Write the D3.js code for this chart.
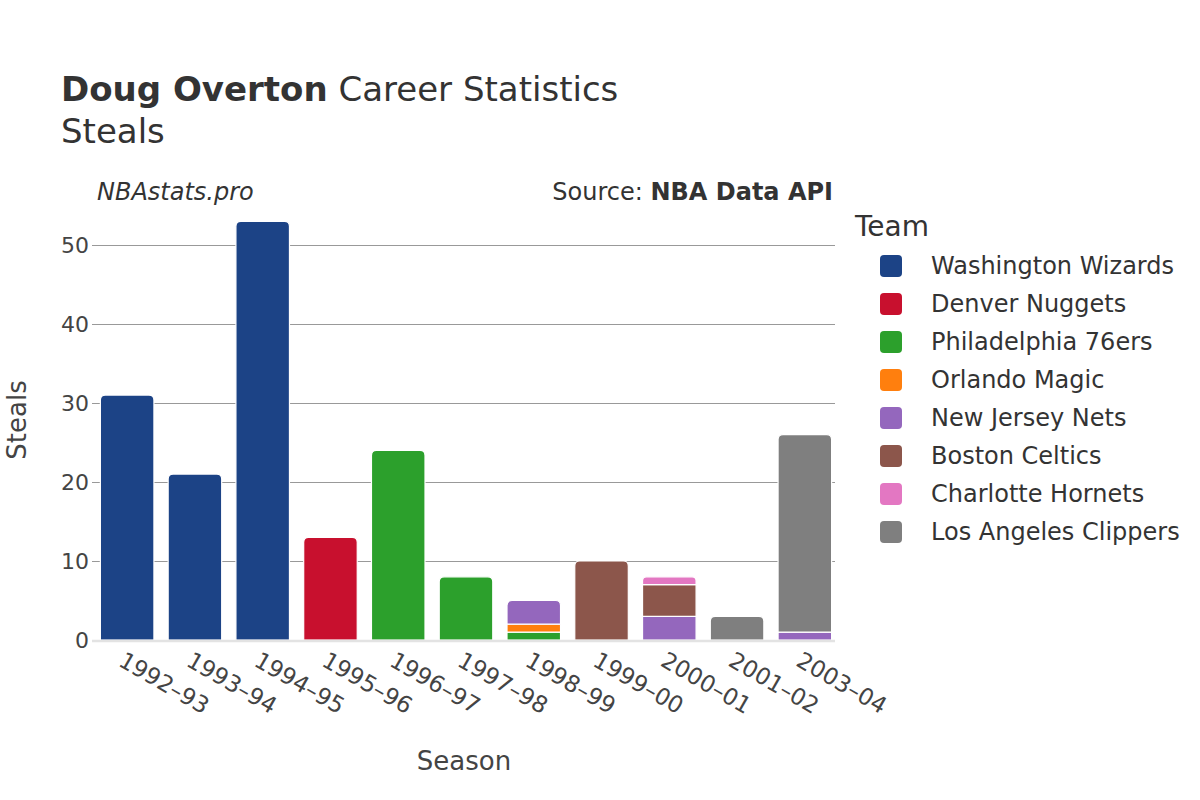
<!DOCTYPE html>
<html>
<head>
<meta charset="utf-8">
<script src="https://cdn.jsdelivr.net/npm/d3@7"></script>
<style>
  body { margin: 0; background: #fff; }
  text { font-family: "DejaVu Sans", sans-serif; fill: #333; }
  .grid line { stroke: #999; stroke-width: 1; shape-rendering: crispEdges; }
</style>
</head>
<body>
<script>
const seasons = ["1992-93", "1993-94", "1994-95", "1995-96", "1996-97", "1997-98",
  "1998-99", "1999-00", "2000-01", "2001-02", "2003-04"];
const teams = ["Washington Wizards", "Denver Nuggets", "Philadelphia 76ers", "Orlando Magic",
  "New Jersey Nets", "Boston Celtics", "Charlotte Hornets", "Los Angeles Clippers"];
const colors = ["#1c4386", "#c8102e", "#2ca02c", "#ff7f0e", "#9467bd", "#8c564b", "#e377c2", "#7f7f7f"];
// steals per season, one array per team (stack order bottom -> top)
const washington = [31, 21, 53, 0, 0, 0, 0, 0, 0, 0, 0];
const denver = [0, 0, 0, 13, 0, 0, 0, 0, 0, 0, 0];
const philadelphia = [0, 0, 0, 0, 24, 8, 1, 0, 0, 0, 0];
const orlando = [0, 0, 0, 0, 0, 0, 1, 0, 0, 0, 0];
const newJersey = [0, 0, 0, 0, 0, 0, 3, 0, 3, 0, 1];
const boston = [0, 0, 0, 0, 0, 0, 0, 10, 4, 0, 0];
const charlotte = [0, 0, 0, 0, 0, 0, 0, 0, 1, 0, 0];
const clippers = [0, 0, 0, 0, 0, 0, 0, 0, 0, 3, 25];
const values = [washington, denver, philadelphia, orlando, newJersey, boston, charlotte, clippers];
const yTicks = [0, 10, 20, 30, 40, 50];

const W = 1200, H = 800;
const svg = d3.select("body").append("svg").attr("width", W).attr("height", H);

const x = d3.scaleBand().domain(seasons).range([97, 835]).paddingInner(0.21).paddingOuter(0.05);
const y = d3.scaleLinear().domain([0, 50]).range([640, 245]);

// grid
const g = svg.append("g").attr("class", "grid");
g.selectAll("line").data(yTicks.filter(d => d > 0)).join("line")
  .attr("x1", 92).attr("x2", 835).attr("y1", d => Math.round(y(d)) + 0.5).attr("y2", d => Math.round(y(d)) + 0.5);

// y tick labels
svg.append("g").selectAll("text").data(yTicks).join("text")
  .attr("x", 89).attr("y", d => y(d)).attr("dy", "0.35em")
  .attr("text-anchor", "end").style("font-size", "22px").style("fill", "#444")
  .text(d => d);

// stacked segments
const stackData = seasons.map((s, i) => {
  const segs = [];
  let base = 0;
  teams.forEach((t, k) => {
    const v = values[k][i];
    if (v > 0) { segs.push({ season: s, team: k, y0: base, y1: base + v }); base += v; }
  });
  if (segs.length) segs[segs.length - 1].top = true;
  return segs;
}).flat();

function segPath(d) {
  const x0 = x(d.season), x1 = x0 + x.bandwidth();
  const yb = y(d.y0), yt = y(d.y1);
  const r = d.top ? Math.min(5, (yb - yt) / 2) : 0;
  return `M${x0},${yb}L${x0},${yt + r}Q${x0},${yt} ${x0 + r},${yt}L${x1 - r},${yt}Q${x1},${yt} ${x1},${yt + r}L${x1},${yb}Z`;
}

svg.append("g").selectAll("path").data(stackData).join("path")
  .attr("d", segPath)
  .attr("fill", d => colors[d.team])
  .attr("stroke", "#fff").attr("stroke-width", 1.2);

// zero line
svg.append("line").attr("x1", 92).attr("x2", 835).attr("y1", y(0) + 1).attr("y2", y(0) + 1)
  .attr("stroke", "#e3e3e3").attr("stroke-width", 2.5);

// x tick labels
svg.append("g").selectAll("text").data(seasons).join("text")
  .attr("transform", d => `translate(${x(d) + x.bandwidth() / 2 - 6},${658}) rotate(30)`)
  .attr("dy", "0.35em")
  .style("font-size", "23px").style("fill", "#444")
  .text(d => d.replace("-", "–"));

// axis titles
svg.append("text").attr("x", 464).attr("y", 770).attr("text-anchor", "middle")
  .style("font-size", "26px").style("fill", "#444").text("Season");
svg.append("text").attr("transform", "translate(17,420) rotate(-90)").attr("text-anchor", "middle")
  .attr("dy", "0.35em").style("font-size", "26px").style("fill", "#444").text("Steals");

// titles
const t1 = svg.append("text").attr("x", 61).attr("y", 101).style("font-size", "34px");
t1.append("tspan").style("font-weight", "bold").text("Doug Overton");
t1.append("tspan").text(" Career Statistics");
svg.append("text").attr("x", 61).attr("y", 143).style("font-size", "34px").text("Steals");

svg.append("text").attr("x", 97).attr("y", 200).style("font-size", "24px")
  .style("font-style", "italic").text("NBAstats.pro");
const src = svg.append("text").attr("x", 833).attr("y", 200).attr("text-anchor", "end")
  .style("font-size", "24px");
src.append("tspan").text("Source: ");
src.append("tspan").style("font-weight", "bold").text("NBA Data API");

// legend
svg.append("text").attr("x", 855).attr("y", 236).style("font-size", "28px").text("Team");
const leg = svg.append("g").selectAll("g").data(teams).join("g")
  .attr("transform", (d, i) => `translate(880,${266 + i * 38})`);
leg.append("rect").attr("x", 0).attr("y", -11).attr("width", 22).attr("height", 22)
  .attr("rx", 4).attr("fill", (d, i) => colors[i]);
leg.append("text").attr("x", 51).attr("dy", "0.35em").style("font-size", "24px").text(d => d);
</script>
</body>
</html>
